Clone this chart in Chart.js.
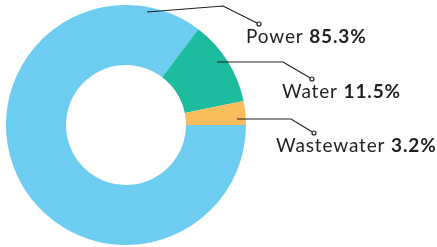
<!DOCTYPE html>
<html><head><meta charset="utf-8">
<script src="https://cdn.jsdelivr.net/npm/chart.js@4.4.1/dist/chart.umd.min.js"></script>
<style>html,body{margin:0;padding:0;background:#fff;}canvas{display:block;}</style>
</head><body>
<canvas id="c" width="437" height="247"></canvas>
<script>
const categories = ["Power", "Water", "Wastewater"];
const shares = [85.3, 11.5, 3.2];
const valueLabels = ["85.3%", "11.5%", "3.2%"];
const colors = ["#6dcdf1", "#1ebc9f", "#fbbd5b"];

// leader layout, offsets from the doughnut centre (px)
const leaders = [
  {start:[21,-113], elbow:[97,-119], dot:[133,-101], text:[120,-82]},
  {start:[91,-63], elbow:[157,-63], dot:[186,-46], text:[156,-27]},
  {start:[111,-6], elbow:[165,-6], dot:[188,8], text:[150,27]}
];

const labelPlugin = {
  id: 'leaderLabels',
  afterDraw(chart) {
    const ctx = chart.ctx;
    const arc = chart.getDatasetMeta(0).data[0];
    const cx = arc.x, cy = arc.y;
    ctx.save();
    leaders.forEach((L, i) => {
      ctx.strokeStyle = '#231f20';
      ctx.lineWidth = 1.2;
      ctx.beginPath();
      ctx.moveTo(cx + L.start[0], cy + L.start[1]);
      ctx.lineTo(cx + L.elbow[0], cy + L.elbow[1]);
      ctx.lineTo(cx + L.dot[0], cy + L.dot[1]);
      ctx.stroke();
      ctx.beginPath();
      ctx.arc(cx + L.dot[0], cy + L.dot[1], 2, 0, Math.PI * 2);
      ctx.fillStyle = '#fff';
      ctx.fill();
      ctx.stroke();
      ctx.fillStyle = '#231f20';
      ctx.textBaseline = 'alphabetic';
      ctx.textAlign = 'left';
      ctx.letterSpacing = '0.85px';
      ctx.font = '400 19px Lato';
      const name = categories[i] + ' ';
      const tx = cx + L.text[0], ty = cy + L.text[1];
      ctx.fillText(name, tx, ty);
      const w = ctx.measureText(name).width;
      ctx.font = '700 19px Lato';
      ctx.fillText(valueLabels[i], tx + w, ty);
    });
    ctx.restore();
  }
};

new Chart(document.getElementById('c'), {
  type: 'doughnut',
  data: {
    labels: categories,
    datasets: [{ data: shares, backgroundColor: colors, borderWidth: 0, hoverOffset: 0 }]
  },
  options: {
    responsive: false,
    animation: false,
    rotation: 90,
    cutout: '50%',
    layout: { padding: { left: 6, right: 191, top: 5, bottom: 2 } },
    plugins: { legend: { display: false }, tooltip: { enabled: false } }
  },
  plugins: [labelPlugin]
});
</script>
</body></html>
